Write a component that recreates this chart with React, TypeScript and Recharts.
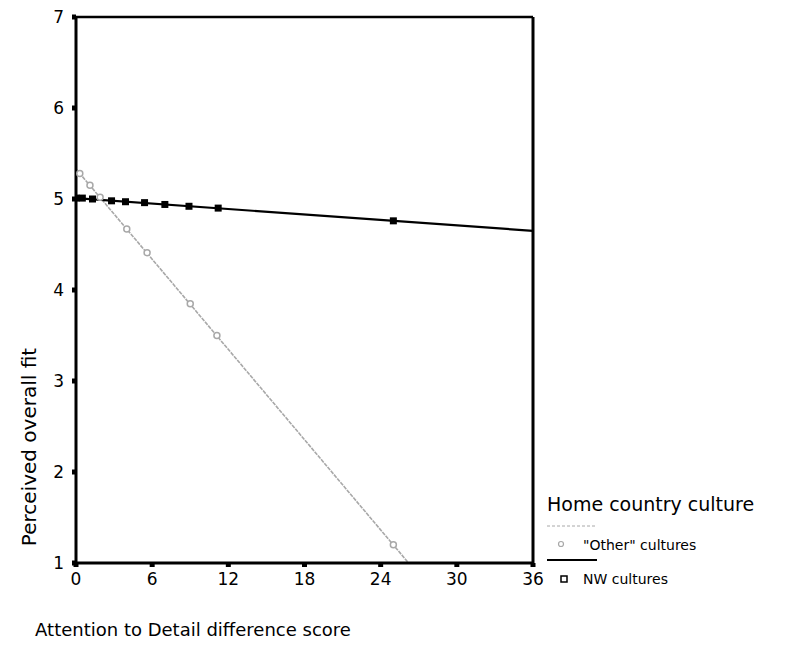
import React from 'react';
import {
  ComposedChart,
  Line,
  Scatter,
  XAxis,
  YAxis,
  Label,
  ReferenceLine,
} from 'recharts';

// fitted lines (endpoints)
const otherLine = [
  { x: 0, y: 5.33 },
  { x: 26.2, y: 1.0 },
];
const nwLine = [
  { x: 0, y: 5.01 },
  { x: 36, y: 4.65 },
];

// observed points sitting on the lines
const otherPoints = [
  { x: 0.3, y: 5.28 },
  { x: 1.1, y: 5.15 },
  { x: 1.9, y: 5.02 },
  { x: 4, y: 4.67 },
  { x: 5.6, y: 4.41 },
  { x: 9, y: 3.85 },
  { x: 11.1, y: 3.5 },
  { x: 25, y: 1.2 },
];
const nwPoints = [
  { x: 0, y: 5.01 },
  { x: 0.5, y: 5.01 },
  { x: 1.3, y: 5.0 },
  { x: 2.8, y: 4.98 },
  { x: 3.9, y: 4.97 },
  { x: 5.4, y: 4.96 },
  { x: 7, y: 4.94 },
  { x: 8.9, y: 4.92 },
  { x: 11.2, y: 4.9 },
  { x: 25, y: 4.76 },
];

const xTicks = [0, 6, 12, 18, 24, 30, 36];
const yTicks = [1, 2, 3, 4, 5, 6, 7];

const FONT = '"DejaVu Sans", sans-serif';
const GREY = '#a8a8a8';

const SquareDot = (props: any) => {
  const { cx, cy } = props;
  return <rect x={cx - 3.5} y={cy - 3.5} width={7} height={7} fill="#000" />;
};

const OpenDot = (props: any) => {
  const { cx, cy } = props;
  return <circle cx={cx} cy={cy} r={3} fill="#fff" stroke={GREY} strokeWidth={1.5} />;
};

function LegendBox() {
  return (
    <svg width={251} height={110} style={{ fontFamily: FONT, display: 'block' }}>
      <text x={2} y={24} fontSize={19} fill="#000">Home country culture</text>
      <line x1={2} x2={52} y1={39} y2={39} stroke={GREY} strokeWidth={1} strokeDasharray="3 2" />
      <circle cx={16} cy={57} r={2.5} fill="#fff" stroke={GREY} strokeWidth={1.2} />
      <text x={38} y={63} fontSize={14} fill="#000">"Other" cultures</text>
      <line x1={2} x2={52} y1={73} y2={73} stroke="#000" strokeWidth={2} />
      <rect x={16} y={89} width={6} height={6} fill="none" stroke="#000" strokeWidth={1.5} />
      <text x={38} y={97} fontSize={14} fill="#000">NW cultures</text>
    </svg>
  );
}

export default function App() {
  return (
    <div style={{ position: 'absolute', left: 0, top: 0, width: 796, height: 647, background: '#fff' }}>
      <ComposedChart
        width={796}
        height={647}
        margin={{ top: 17, right: 263, bottom: 54, left: 16 }}
      >
        <XAxis
          type="number"
          dataKey="x"
          domain={[0, 36]}
          ticks={xTicks}
          allowDataOverflow
          height={30}
          axisLine={{ stroke: '#000', strokeWidth: 3 }}
          tickLine={{ stroke: '#000', strokeWidth: 5 }}
          tickSize={4}
          tickMargin={6}
          tick={{ fill: '#000', fontSize: 17, fontFamily: FONT }}
        >
          <Label
            content={() => (
              <text x={193} y={636} textAnchor="middle" fontSize={18} fontFamily={FONT} fill="#000">
                Attention to Detail difference score
              </text>
            )}
          />
        </XAxis>
        <YAxis
          type="number"
          domain={[1, 7]}
          ticks={yTicks}
          allowDataOverflow
          width={60}
          axisLine={{ stroke: '#000', strokeWidth: 3 }}
          tickLine={{ stroke: '#000', strokeWidth: 5 }}
          tickSize={4}
          tickMargin={8}
          tick={{ fill: '#000', fontSize: 17, fontFamily: FONT }}
        >
          <Label
            content={() => (
              <text
                x={30}
                y={447}
                transform="rotate(-90 30 447)"
                textAnchor="middle"
                dominantBaseline="middle"
                fontSize={20}
                fontFamily={FONT}
                fill="#000"
              >
                Perceived overall fit
              </text>
            )}
          />
        </YAxis>
        <ReferenceLine y={7} stroke="#000" strokeWidth={2.5} />
        <ReferenceLine x={36} stroke="#000" strokeWidth={3} />
        <Line
          data={otherLine}
          dataKey="y"
          type="linear"
          stroke={GREY}
          strokeWidth={1.6}
          strokeDasharray="4 1"
          dot={false}
          isAnimationActive={false}
          legendType="none"
        />
        <Line
          data={nwLine}
          dataKey="y"
          type="linear"
          stroke="#000"
          strokeWidth={2.2}
          dot={false}
          isAnimationActive={false}
          legendType="none"
        />
        <Scatter data={otherPoints} dataKey="y" shape={OpenDot} isAnimationActive={false} />
        <Scatter data={nwPoints} dataKey="y" shape={SquareDot} isAnimationActive={false} />
      </ComposedChart>
      <div style={{ position: 'absolute', left: 545, top: 487 }}>
        <LegendBox />
      </div>
    </div>
  );
}
